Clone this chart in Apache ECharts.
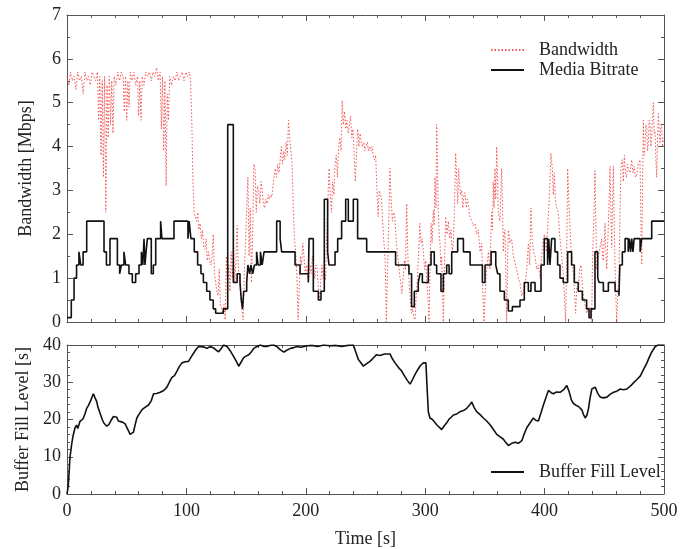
<!DOCTYPE html>
<html>
<head>
<meta charset="UTF-8"/>
<title>Bandwidth / Bitrate / Buffer</title>
<script type="text/javascript" src="https://cdn.jsdelivr.net/npm/echarts@6/dist/echarts.min.js"></script>
<style type="text/css">
	body { margin: 0; background: #fff; }
	#chart { width: 697px; height: 549px; }
</style>
</head>
<body>
<div id="chart"></div>
<script type="text/javascript">
// bandwidth samples [time s, Mbps]
var bandwidth = [
	[0,5.6],[1.5,5.4],[3,5.7],[4.5,5.5],[6,5.6],[7.5,5.3],[9,5.7],[10.5,5.5],[12,5.6],[13.5,5.2],[15,5.7],[16.5,5.5],[18,5.6],[19.5,5.4],[21,5.7],[22.5,5.6],[24,5.5],[25.5,5.7],[26.5,4.6],[27.5,5.6],[28.5,3.8],[29.5,5.5],[30.5,3.3],[31.5,5.6],[32.5,2.5],[33.5,5.4],[34.5,4.2],[35.5,5.6],[36.5,4.5],[37.5,5.5],[38.5,4.3],[39.5,5.6],[41,5.4],[42.5,5.7],[44,5.5],[45.5,5.7],[47,5.6],[48,4.8],[49,5.6],[50,4.6],[51,5.5],[52,4.9],[53,5.7],[54.5,5.5],[56,5.7],[57.5,5.4],[59,5.6],[60,4.7],[61,5.5],[62,4.6],[63,5.6],[64.5,5.4],[66,5.7],[67.5,5.6],[69,5.7],[70.5,5.5],[72,5.7],[73.5,5.6],[75,5.8],[76.5,5.5],[78,5.7],[79,4.4],[80,5.6],[81,3.9],[82,5.5],[83,3.1],[84,5.2],[85,4.6],[86,5.6],[87.5,5.4],[89,5.6],[90.5,5.5],[92,5.7],[93.5,5.5],[95,5.6],[96.5,5.7],[98,5.5],[99.5,5.7],[101,5.6],[102.5,5.7],[103.5,5.5],[104.5,4.6],[105.5,3.2],[106.5,2.5],[107.5,2.4],
	[108.5,2.3],[109.5,2.5],[110.5,2.1],[111.5,2.25],[112.5,1.9],[113.5,2.1],[114.5,1.7],[115.5,1.65],[116.5,1.9],[117.5,1.4],[118.5,1.6],[119.5,1.4],[120.5,1.3],[121.5,1.5],[122.5,2.0],[123.5,1.1],[124.5,0.9],[125.5,0.7],[126.5,0.6],[127.5,1.2],[128.5,0.4],[129.5,0.3],[130.5,0.2],[131.5,0.4],[132.5,0.05],[133.5,1.5],[134.5,0.9],[135.5,1.3],[136.5,0.7],[137.5,1.6],[138.5,1.0],[139.5,1.8],[140.5,0.9],[141.5,1.4],[142.5,2.2],[143.5,1.2],[144.5,1.0],[145.5,0.6],[146.5,0.3],[147.5,0.05],[148.5,1.1],[149.5,1.8],[150.5,2.6],[151.5,3.3],[152.5,1.5],[153.5,2.6],[154.5,0.9],[155.5,2.0],[156.5,3.6],[157.5,3.5],[158.5,2.5],[159.5,3.1],[160.5,3.0],[161.5,2.7],[162.5,3.2],[163.5,3.0],[164.5,2.7],[165.5,2.6],[166.5,2.8],[167.5,2.7],[168.5,2.9],[169.5,2.8],[170.5,2.9],[171.5,2.85],[172.5,3.1],[173.5,3.3],[174.5,3.5],[175.5,3.3],[176.5,3.6],[177.5,3.4],[178.5,3.7],[179.5,4.0],[180.5,3.6],[181.5,3.9],[182.5,3.7],[183.5,4.1],[184.5,3.8],[185.5,4.6],[186.5,4.2],[187.5,3.9],[188.5,3.6],[189.5,2.6],[190.5,1.9],[191.5,1.6],[192.5,1.1],[193.5,0.05],[194.5,0.8],[195.5,1.5],[196.5,1.3],[197.5,1.8],[198.5,1.5],[199.5,1.1],
	[200.5,1.3],[201.5,1.0],[202.5,0.95],[203.5,1.3],[204.5,1.1],[205.5,1.5],[206.5,1.25],[207.5,1.0],[208.5,1.3],[209.5,1.2],[210.5,0.8],[211.5,0.5],[212.5,0.9],[213.5,1.3],[214.5,1.0],[215.5,1.2],[216.5,0.95],[217.5,2.0],[218.5,2.8],[219.5,3.5],[220.5,2.9],[221.5,2.5],[222.5,3.2],[223.5,2.9],[224.5,3.6],[225.5,3.8],[226.5,3.3],[227.5,4.0],[228.5,4.2],[229.5,3.9],[230.5,5.05],[231.5,4.5],[232.5,4.8],[233.5,4.4],[234.5,4.6],[235.5,4.3],[236.5,4.5],[237.5,4.7],[238.5,4.2],[239.5,4.4],[240.5,3.8],[241.5,3.2],[242.5,3.9],[243.5,4.4],[244.5,4.0],[245.5,4.3],[246.5,4.1],[247.5,4.0],[248.5,4.1],[249.5,3.9],[250.5,4.0],[251.5,4.1],[252.5,3.9],[253.5,4.0],[254.5,3.9],[255.5,4.0],[256.5,3.8],[257.5,3.7],[258.5,3.8],[259.5,3.1],[260.5,2.4],[261.5,3.0],[262.5,2.9],[263.5,2.8],[264.5,2.2],[265.5,1.8],[266.5,1.4],[267.5,0.0],[268.5,1.2],[269.5,2.3],[270.5,3.5],[271.5,2.8],[272.5,2.3],[273.5,2.5],[274.5,2.4],[275.5,2.0],[276.5,1.6],[277.5,1.4],[278.5,1.1],[279.5,0.9],[280.5,0.65],[281.5,1.0],[282.5,1.4],[283.5,1.2],[284.5,2.7],[285.5,1.5],[286.5,0.9],[287.5,0.5],[288.5,0.2],[289.5,0.3],[290.5,0.1],[291.5,0.05],[292.5,0.6],[293.5,1.0],[294.5,1.6],[295.5,2.25],[296.5,1.8],[297.5,1.9],[298.5,1.6],[299.5,1.2],
	[300.5,1.4],[301.2,1.0],[302.2,0.6],[303.2,0.0],[304,1.2],[304.9,2.25],[305.8,1.8],[306.8,2.55],[307.5,2.2],[308.2,3.3],[309,2.6],[309.6,4.5],[310.3,3.5],[311,2.5],[311.7,2.0],[312.4,1.8],[313.1,1.3],[313.8,1.5],[314.5,0.8],[315.2,0.0],[316.1,1.2],[317.1,2.4],[318.2,2.0],[319.4,2.3],[320.5,1.9],[321.6,2.1],[322.6,1.6],[323.6,1.8],[324.5,2.6],[325.5,3.85],[326.4,3.3],[327.2,2.7],[328,3.5],[328.6,3.25],[329.5,2.9],[330.5,3.0],[331.5,2.6],[332.5,2.9],[333.3,2.95],[334.5,2.6],[335.3,2.8],[336.1,2.7],[337.5,2.4],[338.9,2.4],[340.3,2.2],[341.7,2.25],[343.1,2.0],[344.5,2.1],[345.9,1.6],[347.3,1.8],[348,1.0],[348.7,0.3],[349.4,0.0],[350.1,0.6],[351.5,1.2],[352.9,1.6],[354.2,1.2],[355.6,2.5],[356.3,2.1],[357,3.2],[357.7,2.6],[358.4,3.5],[359.1,2.8],[359.9,4.0],[360.6,3.3],[361.2,2.5],[362.6,2.3],[364,3.5],[364.7,2.8],[365.4,1.6],[366.1,2.0],[366.8,2.1],[367.5,1.2],[368.2,0.0],[368.9,1.2],[369.6,2.1],[371,1.8],[372.4,1.9],[373.8,1.5],[375.2,1.35],[376.6,1.2],[378,1.0],[379.4,0.9],[380.8,0.6],[382.2,0.7],[383.6,0.8],[385,1.2],[386.4,1.8],[387.5,1.3],[388.6,2.6],[389.6,1.9],[390.6,1.6],[392,1.5],[393.4,1.2],[394.8,1.3],[396.2,1.0],[397.6,1.5],[398.9,1.9],[399.9,2.0],
	[400.3,2.0],[401.5,1.6],[403.1,2.4],[404.2,3.0],[405.3,3.85],[406.5,3.5],[407.3,2.9],[408.1,3.4],[409,2.8],[410.1,2.6],[411.5,2.5],[412.5,2.0],[413.7,1.7],[414.6,1.4],[415.6,1.1],[416.6,0.6],[417.6,0.0],[418.5,1.5],[419.3,3.5],[420.4,2.7],[421.2,2.2],[422.1,1.7],[423.1,1.4],[424.1,1.1],[425,0.7],[426,0.2],[427,0.8],[428.2,0.7],[429.3,1.2],[430.5,1.3],[431.5,0.9],[432.4,0.6],[433.8,0.4],[435.2,0.2],[436.6,0.3],[438,0.35],[439.4,0.0],[440.1,1.3],[440.8,2.0],[441.5,2.6],[442.2,3.45],[443,2.2],[443.6,1.2],[445,1.5],[446.4,1.7],[447.8,1.9],[448.5,1.5],[449.2,1.4],[450.6,2.25],[451.3,1.6],[452,1.2],[453.4,2.2],[454.8,3.55],[455.5,2.5],[456.2,1.7],[457,2.8],[457.6,3.55],[458.3,2.2],[459,1.3],[459.7,0.6],[460.4,0.0],[461.3,0.6],[462.3,1.1],[463.2,2.5],[464,3.6],[465.1,3.7],[466,3.2],[466.8,3.8],[467.8,3.4],[468.7,3.3],[469.4,3.6],[470.1,3.5],[471.5,3.4],[472.9,3.7],[474,3.4],[475.1,3.55],[476.1,3.3],[477.1,3.35],[478.5,3.6],[479.9,3.7],[480.6,2.5],[481.3,1.3],[482,3.0],[482.7,4.6],[483.4,3.8],[484.1,4.0],[484.8,4.5],[485.5,4.45],[486.2,3.9],[486.9,4.1],[487.6,4.6],[488.3,4.5],[489,4.0],[489.7,4.2],[490.4,4.7],[491.1,5.0],[491.8,4.3],[492.5,4.35],[493.2,3.7],[493.9,3.3],[494.6,4.2],[495.3,4.75],[496,4.3],[496.7,4.1],[497.4,4.5],[498.1,4.45],[498.8,4.0],[499.5,4.2]
];

// media bitrate steps [start time s, Mbps]
var bitrate = [
	[0,0.1],[3.6,0.5],[5.9,1.0],[8,1.3],[10,1.6],[11.5,1.3],[13.5,1.6],[16.5,2.3],[31,1.6],[33,1.3],[36,1.9],[42.2,1.3],[44.1,1.1],[45.5,1.3],[47.7,1.6],[49.1,1.3],[51.9,1.1],[54.7,0.9],[57.5,1.1],[60.3,1.3],[62.3,1.6],[63.5,1.3],[64.5,1.9],[65.3,1.3],[66.2,1.6],[67.3,1.9],[70.6,1.1],[72.3,1.3],[74.3,1.9],[78.4,2.3],[79.5,1.9],[89.6,2.3],
	[101.3,1.9],[102.3,2.3],[103.8,1.9],[106.6,1.6],[109.4,1.3],[112.2,1.1],[114.2,0.9],[117,0.7],[119.7,0.5],[122.5,0.3],[124.5,0.2],[130.9,0.3],[134.6,4.5],[139.3,0.9],[142.5,1.1],[144.9,0.9],[146,0.5],[147,0.3],[148,0.7],[150.5,0.9],[151.5,1.3],[153,1.1],[154,1.3],[155.5,1.1],[157,1.3],[158.8,1.6],[160,1.3],[162,1.6],[163.5,1.3],[165,1.6],[175.6,2.3],[178.5,1.9],[179.8,1.6],[191,1.3],[195.2,1.1],
	[202.1,0.9],[202.7,1.9],[206.3,0.7],[210.5,0.5],[212.7,0.7],[215.5,2.8],[218.3,1.6],[219.4,1.3],[224.5,1.6],[226.7,1.9],[230,2.3],[233.4,2.8],[235.6,2.3],[239.8,2.8],[243.4,1.9],[251,1.6],[275.2,1.3],[286.4,1.1],[288.6,0.35],[290.9,0.7],[294.2,0.9],[295.6,1.1],[297.6,0.9],
	[302.6,1.3],[304.9,1.6],[307.6,1.3],[309.6,1.1],[313.2,0.7],[315.2,1.1],[318,1.3],[320,1.1],[322.2,1.6],[327.2,1.9],[332,1.6],[337.6,1.3],[347.9,0.9],[350.1,1.3],[355.2,1.6],[359.1,1.3],[360.7,1.1],[362.6,0.7],[366.3,0.5],[369.6,0.25],[373,0.35],[379.4,0.5],[383,0.9],[386.4,0.7],[388.6,0.9],[392,0.7],[397,1.3],[399.7,1.9],
	[402.5,1.3],[403.5,1.9],[404.5,1.3],[405.9,1.9],[408.7,1.6],[410.9,1.3],[412.9,1.0],[415.6,0.9],[419.3,1.6],[422.6,1.3],[424.9,0.9],[428.2,0.7],[431.6,0.5],[435.2,0.3],[437.2,0.1],[438.9,0.3],[442.2,1.6],[444.5,1.0],[445.6,0.9],[449.2,0.7],[453.4,0.9],[459,0.7],[462.3,0.6],[463,1.3],[465.1,1.6],[467.4,1.9],[470,1.6],[471,1.9],[472,1.6],[473,1.9],[474,1.6],[475,1.9],[480,1.6],[481.3,1.9],[489.7,2.3],[500,2.3]
];

// buffer fill level [time s, s]
var buffer = [
	[0,0],[0.5,1.0],[1.1,2.5],[1.8,6],[2.5,9.9],[3.2,11.5],[3.9,13.4],[5,15.5],[6.7,17.8],[8,18.5],[9,17.6],[10.9,19.5],[12,19.0],[13.5,20.2],[15,21.5],[16.5,23],[18,23.8],[20,25.2],[22.1,26.9],[23.5,25.8],[24.9,24.8],[26,23.2],[27.7,21.7],[29.5,20.0],[31,19.0],[33.3,18.2],[35,18.6],[37,19.8],[38.9,20.8],[40.5,21.0],[41.7,20.6],[43,19.6],[44.5,19.1],[46.5,19.3],[48.7,18.8],[50.5,17.6],[52.9,16.0],[54.5,16.4],[55.7,16.6],[57,18.5],[58.5,20.4],[60.5,21.5],[62.7,22.6],[65,23.2],[68.3,23.9],[70.5,25.0],[72.5,26.9],[75,27.0],[78.1,27.3],[81,27.8],[83.7,28.7],[86,30.2],[87.9,31.3],[90,31.8],[92.1,33],[94,34.2],[96.3,35.2],[99,35.5],[101.8,35.6],[104,36.8],[106,37.8],[108,38.8],[110.2,39.6],[111.6,40],[114,39.5],[117.2,39.1],[120,39.6],[122.8,39.2],[125,38.6],[127,38.2],[129,39.0],[131.2,40],[134,39.6],[137,38.3],[139.6,36.9],[141.5,35.8],[143.8,34.3],[146,35.5],[148,36.6],[150,37.0],[152.2,37.4],[154.5,38.2],[156.4,39.1],[159,39.6],[162,40],[165,39.6],[167.6,39.6],[170,39.9],[173.2,40],[176,39.5],[178.8,38.7],[181.6,38.1],[184,38.6],[187.2,39.1],[190,39.3],[192.8,39.6],[196,39.4],[201.2,39.8],[205,39.9],[210,39.6],[215,40],[220,39.8],[225,39.9],[230,39.6],[235,39.9],[239.8,40],
	[242,38.0],[244,36.1],[246,35.3],[248.2,34.3],[251,35.0],[253.8,35.6],[256.5,36.5],[259.3,37.4],[262,37.2],[266,37.6],[270.5,37.6],[272.5,36.3],[274.7,35.2],[277.5,34.0],[280.3,33],[283,31.5],[285,30.5],[287.3,29.5],[289.5,30.8],[291.5,32.1],[294,33.5],[296,34.5],[298.5,35.2],[300.6,35.2],[301.5,29],[302.6,22.1],[304,20.4],[306,20.0],[307.8,19.3],[309.6,18.6],[311.5,18.0],[313.8,17.3],[316,18.3],[318,19.1],[320,20.1],[321.8,20.6],[323.6,21.2],[326.5,21.5],[329.2,22.1],[332,22.4],[334.8,23],[337,23.8],[339,24.7],[341,23.2],[343.1,22.1],[346,21.3],[348.7,20.4],[351.5,19.6],[354.3,18.6],[357,17.4],[359.9,16.0],[362.5,15.4],[365.5,14.7],[367.5,13.8],[369.7,13.0],[372.5,13.6],[375.3,13.9],[378,13.6],[380.9,14.3],[383,16.2],[385.1,17.8],[388,19.2],[390.6,20.4],[392.5,19.8],[394.8,19.6],[397,21.8],[399,23.9],
	[401,25.8],[403.2,27.8],[405.5,27.2],[407.4,26.9],[410,27.4],[413,27.3],[416,28.0],[418.6,29.1],[420.5,27.5],[422.5,25.2],[424.2,24.3],[426.5,23.8],[428.4,23.5],[431.2,22.6],[432.5,21.4],[434,20.4],[435.5,21.2],[436.8,23],[438,25.6],[439.6,28.2],[442.4,28.7],[444.5,27.0],[446.6,26],[449.5,25.8],[452.2,26],[455,26.8],[457.8,27.3],[460.5,27.6],[463.4,28.2],[466,28.0],[469,28.2],[472,29.0],[474.6,29.9],[477.5,30.8],[480.2,31.7],[483,33.5],[485.7,35.2],[487.8,36.8],[489.9,38.2],[492.7,39.6],[495,40],[498.3,40],[500,40]
];

var FONT = "Liberation Serif";
var FS = 18;
var FRAME = "#555";

function xAx(grid, pos, labels, name){
	return {
		type: "value", gridIndex: grid, position: pos, min: 0, max: 500, interval: 100,
		name: name || "", nameLocation: "middle", nameGap: 36,
		nameTextStyle: { fontFamily: FONT, fontSize: FS, color: "#222" },
		axisLine: { show: true, onZero: false, lineStyle: { color: FRAME, width: 1 } },
		axisTick: { show: true, inside: true, length: 6, lineStyle: { color: FRAME } },
		minorTick: { show: true, splitNumber: 5, length: 3, lineStyle: { color: FRAME } },
		axisLabel: { show: labels, margin: 8, fontFamily: FONT, fontSize: FS, color: "#222" },
		splitLine: { show: false }
	};
}

function yAx(grid, pos, labels, max, step, minor, name){
	return {
		type: "value", gridIndex: grid, position: pos, min: 0, max: max, interval: step,
		name: name || "", nameLocation: "middle", nameGap: 32,
		nameTextStyle: { fontFamily: FONT, fontSize: FS, color: "#222" },
		axisLine: { show: true, onZero: false, lineStyle: { color: FRAME, width: 1 } },
		axisTick: { show: true, inside: true, length: 6, lineStyle: { color: FRAME } },
		minorTick: { show: true, splitNumber: minor, length: 3, lineStyle: { color: FRAME } },
		axisLabel: { show: labels, margin: 6, fontFamily: FONT, fontSize: FS, color: "#222" },
		splitLine: { show: false }
	};
}

// legend keeps only the line sample, no marker
var legendBase = {
	orient: "vertical", left: 485,
	itemWidth: 33, itemHeight: 14, itemGap: 2,
	itemStyle: { color: "rgba(0,0,0,0)", borderWidth: 0 },
	textStyle: { fontFamily: FONT, fontSize: FS, color: "#222", padding: [0, 0, 0, 10] }
};

var chart = echarts.init(document.getElementById("chart"), null, { renderer: "canvas" });
var option = {
	animation: false,
	backgroundColor: "#fff",
	grid: [
		{ left: 67, right: 33, top: 15, height: 307 },
		{ left: 67, right: 33, top: 345, height: 153 }
	],
	xAxis: [
		xAx(0, "bottom", false),
		xAx(0, "top", false),
		xAx(1, "bottom", true, "Time [s]"),
		xAx(1, "top", false)
	],
	yAxis: [
		yAx(0, "left", true, 7, 1, 2, "Bandwidth [Mbps]"),
		yAx(0, "right", false, 7, 1, 2),
		yAx(1, "left", true, 40, 10, 5, "Buffer Fill Level [s]"),
		yAx(1, "right", false, 40, 10, 5)
	],
	legend: [
		Object.assign({}, legendBase, { data: ["Bandwidth", "Media Bitrate"], top: 36 }),
		Object.assign({}, legendBase, { data: ["Buffer Fill Level"], top: 458 })
	],
	series: [
		{
			name: "Bandwidth", type: "line", xAxisIndex: 0, yAxisIndex: 0,
			data: bandwidth, symbol: "none",
			lineStyle: { color: "#f25555", width: 1, type: [1.5, 2] },
			itemStyle: { color: "#f25555" }
		},
		{
			name: "Media Bitrate", type: "line", xAxisIndex: 0, yAxisIndex: 0,
			data: bitrate, step: "end", symbol: "none",
			lineStyle: { color: "#111", width: 1.6 },
			itemStyle: { color: "#111" }
		},
		{
			name: "Buffer Fill Level", type: "line", xAxisIndex: 2, yAxisIndex: 2,
			data: buffer, symbol: "none",
			lineStyle: { color: "#111", width: 1.6 },
			itemStyle: { color: "#111" }
		}
	]
};
chart.setOption(option);
</script>
</body>
</html>
